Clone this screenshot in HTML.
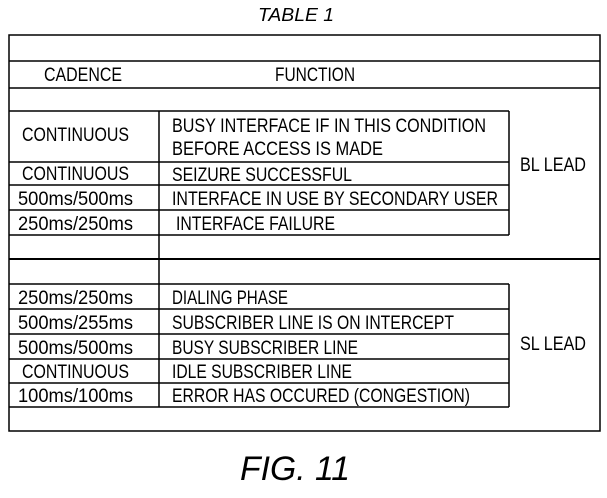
<!DOCTYPE html>
<html><head><style>html,body{margin:0;padding:0;background:#fff}</style></head><body>
<svg width="607" height="493" xmlns="http://www.w3.org/2000/svg" font-family="Liberation Sans, sans-serif" fill="#000">
<g stroke="#000" stroke-width="1.5" fill="none">
<rect x="9" y="35" width="591" height="396"/>
<line x1="9" y1="61" x2="600" y2="61"/>
<line x1="9" y1="88" x2="600" y2="88"/>
<line x1="9" y1="111" x2="509" y2="111"/>
<line x1="9" y1="162" x2="509" y2="162"/>
<line x1="9" y1="185" x2="509" y2="185"/>
<line x1="9" y1="210" x2="509" y2="210"/>
<line x1="9" y1="235" x2="509" y2="235"/>
<line x1="509" y1="111" x2="509" y2="235"/>
<line x1="159" y1="111" x2="159" y2="284"/>
<line x1="9" y1="259" x2="600" y2="259" stroke-width="2"/>
<line x1="9" y1="284" x2="509" y2="284"/>
<line x1="9" y1="309" x2="509" y2="309"/>
<line x1="9" y1="334" x2="509" y2="334"/>
<line x1="9" y1="359" x2="509" y2="359"/>
<line x1="9" y1="383" x2="509" y2="383"/>
<line x1="9" y1="407" x2="509" y2="407"/>
<line x1="509" y1="284" x2="509" y2="407"/>
<line x1="159" y1="284" x2="159" y2="407"/>
</g>
<text x="258" y="21" font-size="18" font-style="italic" textLength="76" lengthAdjust="spacingAndGlyphs">TABLE 1</text>
<g font-size="19" lengthAdjust="spacingAndGlyphs">
<text x="44" y="81" textLength="78" lengthAdjust="spacingAndGlyphs">CADENCE</text>
<text x="275" y="81" textLength="80" lengthAdjust="spacingAndGlyphs">FUNCTION</text>
<text x="22" y="141" textLength="107" lengthAdjust="spacingAndGlyphs">CONTINUOUS</text>
<text x="172" y="132" textLength="314" lengthAdjust="spacingAndGlyphs">BUSY INTERFACE IF IN THIS CONDITION</text>
<text x="172" y="155" textLength="211" lengthAdjust="spacingAndGlyphs">BEFORE ACCESS IS MADE</text>
<text x="22" y="180" textLength="107" lengthAdjust="spacingAndGlyphs">CONTINUOUS</text>
<text x="172" y="181" textLength="180" lengthAdjust="spacingAndGlyphs">SEIZURE SUCCESSFUL</text>
<text x="18" y="205" textLength="115" lengthAdjust="spacingAndGlyphs">500ms/500ms</text>
<text x="172" y="205" textLength="326" lengthAdjust="spacingAndGlyphs">INTERFACE IN USE BY SECONDARY USER</text>
<text x="18" y="230" textLength="115" lengthAdjust="spacingAndGlyphs">250ms/250ms</text>
<text x="176" y="230" textLength="159" lengthAdjust="spacingAndGlyphs">INTERFACE FAILURE</text>
<text x="520" y="171" textLength="66" lengthAdjust="spacingAndGlyphs">BL LEAD</text>
<text x="18" y="304" textLength="115" lengthAdjust="spacingAndGlyphs">250ms/250ms</text>
<text x="172" y="304" textLength="116" lengthAdjust="spacingAndGlyphs">DIALING PHASE</text>
<text x="18" y="329" textLength="115" lengthAdjust="spacingAndGlyphs">500ms/255ms</text>
<text x="172" y="329" textLength="282" lengthAdjust="spacingAndGlyphs">SUBSCRIBER LINE IS ON INTERCEPT</text>
<text x="18" y="354" textLength="115" lengthAdjust="spacingAndGlyphs">500ms/500ms</text>
<text x="172" y="354" textLength="186" lengthAdjust="spacingAndGlyphs">BUSY SUBSCRIBER LINE</text>
<text x="22" y="378" textLength="107" lengthAdjust="spacingAndGlyphs">CONTINUOUS</text>
<text x="172" y="378" textLength="180" lengthAdjust="spacingAndGlyphs">IDLE SUBSCRIBER LINE</text>
<text x="18" y="402" textLength="115" lengthAdjust="spacingAndGlyphs">100ms/100ms</text>
<text x="172" y="402" textLength="298" lengthAdjust="spacingAndGlyphs">ERROR HAS OCCURED (CONGESTION)</text>
<text x="520" y="350" textLength="66" lengthAdjust="spacingAndGlyphs">SL LEAD</text>
</g>
<text x="240" y="480" font-size="34" font-style="italic" textLength="110" lengthAdjust="spacingAndGlyphs">FIG. 11</text>
</svg>
</body></html>
